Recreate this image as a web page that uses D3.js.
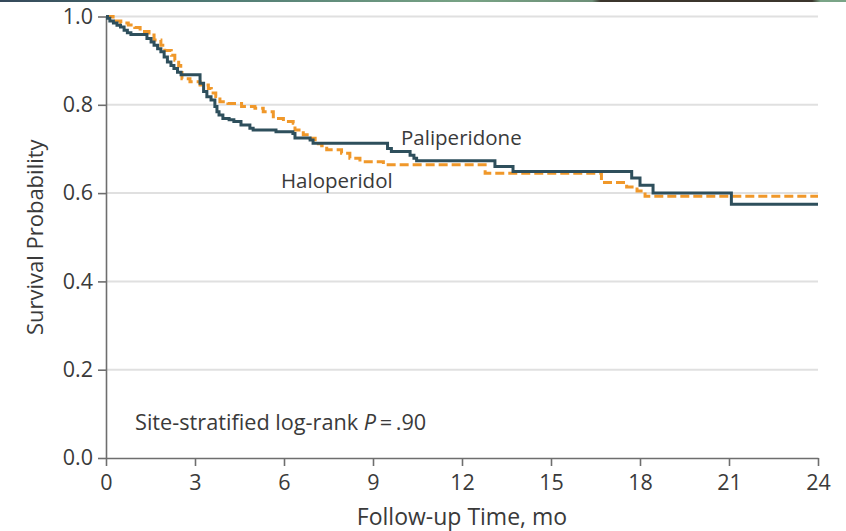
<!DOCTYPE html>
<html>
<head>
<meta charset="utf-8">
<script src="https://cdn.jsdelivr.net/npm/d3@7"></script>
<style>
  body { margin: 0; background: white; }
  text { font-family: "Open Sans", "Noto Sans", sans-serif; fill: #3a3a3a; }
</style>
</head>
<body>
<div id="container"></div>
<script>
// Kaplan-Meier curves (time in months, survival probability)
let palTime = [0, 0.05, 0.13, 0.25, 0.37, 0.49, 0.61, 0.72, 0.84, 1.38,
  1.52, 1.62, 1.74, 1.85, 1.96, 2.07, 2.19, 2.29, 2.41, 2.53,
  3.17, 3.29, 3.40, 3.54, 3.67, 3.74, 3.81, 3.94, 4.15, 4.31,
  4.55, 4.85, 4.96, 5.73, 6.30, 6.37, 6.88, 6.98, 9.49, 9.62,
  10.25, 10.38, 10.47, 13.11, 13.72, 17.72, 18.00, 18.44, 21.08, 24];
let palSurv = [1.000, 0.996, 0.990, 0.985, 0.980, 0.976, 0.969, 0.963, 0.959, 0.950,
  0.942, 0.935, 0.927, 0.920, 0.908, 0.897, 0.889, 0.882, 0.874, 0.868,
  0.849, 0.830, 0.818, 0.811, 0.796, 0.784, 0.777, 0.769, 0.766, 0.762,
  0.754, 0.747, 0.743, 0.739, 0.735, 0.725, 0.720, 0.713, 0.701, 0.694,
  0.686, 0.679, 0.673, 0.660, 0.649, 0.634, 0.618, 0.600, 0.575, 0.575];

let halTime = [0, 0.24, 0.5, 0.75, 0.97, 1.15, 1.45, 1.62, 1.85, 1.98,
  2.2, 2.32, 2.45, 2.52, 2.56, 2.83, 3.17, 3.45, 3.55, 3.7,
  3.84, 4.11, 4.57, 5.02, 5.30, 5.64, 5.98, 6.31, 6.37, 6.65,
  6.88, 7.05, 7.27, 7.44, 7.94, 8.22, 8.56, 9.35, 12.78, 16.7,
  17.55, 17.9, 18.17, 24];
let halSurv = [1.000, 0.990, 0.985, 0.981, 0.975, 0.966, 0.958, 0.947, 0.935, 0.923,
  0.912, 0.901, 0.889, 0.873, 0.859, 0.852, 0.845, 0.837, 0.827, 0.819,
  0.807, 0.803, 0.796, 0.792, 0.784, 0.769, 0.762, 0.758, 0.743, 0.732,
  0.724, 0.712, 0.707, 0.698, 0.690, 0.679, 0.671, 0.664, 0.645, 0.624,
  0.614, 0.605, 0.593, 0.593];

let xTicks = [0, 3, 6, 9, 12, 15, 18, 21, 24];
let yTicks = [0, 0.2, 0.4, 0.6, 0.8, 1.0];

let w = 846;
let h = 531;
let mLeft = 106, mRight = 818, mTop = 16.5, mBottom = 458;

let viz = d3.select("#container")
  .append("svg")
    .attr("width", w)
    .attr("height", h)
    .style("display", "block")
;

// thin strip of the page header that shows at the top edge
let grad = viz.append("defs").append("linearGradient")
    .attr("id", "strip")
;
grad.append("stop").attr("offset", "0%").attr("stop-color", "#34485a");
grad.append("stop").attr("offset", "25%").attr("stop-color", "#4f7a74");
grad.append("stop").attr("offset", "55%").attr("stop-color", "#78a385");
grad.append("stop").attr("offset", "70%").attr("stop-color", "#6d8f78");
grad.append("stop").attr("offset", "71%").attr("stop-color", "#3b352c");
grad.append("stop").attr("offset", "96%").attr("stop-color", "#3b352c");
grad.append("stop").attr("offset", "97%").attr("stop-color", "#7aa487");
grad.append("stop").attr("offset", "100%").attr("stop-color", "#7aa487");

viz.append("rect")
    .attr("x", 0)
    .attr("y", 0)
    .attr("width", w)
    .attr("height", 2)
    .attr("fill", "url(#strip)")
;

let x = d3.scaleLinear().domain([0, 24]).range([mLeft, mRight]);
let y = d3.scaleLinear().domain([0, 1]).range([mBottom, mTop]);

// gridlines
viz.append("g")
  .selectAll("line")
  .data(yTicks.filter(d => d > 0))
  .enter()
  .append("line")
    .attr("x1", x(0))
    .attr("x2", x(24))
    .attr("y1", d => y(d))
    .attr("y2", d => y(d))
    .style("stroke", "#e0e0e0")
    .style("stroke-width", 2)
;

let xAxis = d3.axisBottom(x)
  .tickValues(xTicks)
  .tickSize(8)
  .tickSizeOuter(0)
  .tickPadding(9)
;
let yAxis = d3.axisLeft(y)
  .tickValues(yTicks)
  .tickFormat(d3.format(".1f"))
  .tickSize(8)
  .tickSizeOuter(0)
  .tickPadding(5)
;

let xg = viz.append("g")
    .attr("transform", "translate(0," + mBottom + ")")
    .call(xAxis)
;
let yg = viz.append("g")
    .attr("transform", "translate(" + mLeft + ",0)")
    .call(yAxis)
;

[xg, yg].forEach(function(g){
  g.selectAll("path, line")
    .style("stroke", "#6e6e6e")
    .style("stroke-width", 1.6);
  g.selectAll("text")
    .style("font-size", "21.5px")
    .style("font-family", "Open Sans")
    .attr("fill", "#3a3a3a");
});

let line = d3.line()
  .x(d => x(d[0]))
  .y(d => y(d[1]))
  .curve(d3.curveStepAfter)
;

let halData = halTime.map((t, i) => [t, halSurv[i]]);
let palData = palTime.map((t, i) => [t, palSurv[i]]);

viz.append("path")
    .datum(halData)
    .attr("d", line)
    .attr("fill", "none")
    .style("stroke", "#f0982a")
    .style("stroke-width", 3)
    .style("stroke-dasharray", "9,4")
;

viz.append("path")
    .datum(palData)
    .attr("d", line)
    .attr("fill", "none")
    .style("stroke", "#2e4f5c")
    .style("stroke-width", 3)
;

viz.append("text")
    .text("Paliperidone")
    .attr("x", 401)
    .attr("y", 145)
    .style("font-size", "20.5px")
;

viz.append("text")
    .text("Haloperidol")
    .attr("x", 281)
    .attr("y", 188)
    .style("font-size", "20.5px")
;

let note = viz.append("text")
    .attr("x", 135)
    .attr("y", 430)
    .style("font-size", "21.7px")
;
note.append("tspan").text("Site-stratified log-rank ");
note.append("tspan").text("P").style("font-style", "italic");
note.append("tspan").text("\u2009=\u2009.90");

viz.append("text")
    .text("Follow-up Time, mo")
    .attr("x", (mLeft + mRight) / 2)
    .attr("y", 525)
    .attr("text-anchor", "middle")
    .style("font-size", "23px")
;

viz.append("text")
    .text("Survival Probability")
    .attr("transform", "translate(43," + ((mTop + mBottom) / 2) + ") rotate(-90)")
    .attr("text-anchor", "middle")
    .style("font-size", "22px")
;
</script>
</body>
</html>
